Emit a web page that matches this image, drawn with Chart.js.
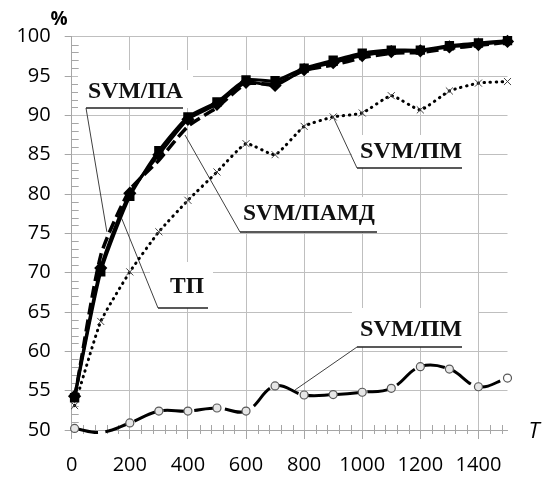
<!DOCTYPE html>
<html>
<head>
<meta charset="utf-8">
<script src="https://cdn.jsdelivr.net/npm/chart.js@4"></script>
<style>
  html, body { margin: 0; padding: 0; background: #fff; }
  #wrap { width: 543px; height: 479px; }
</style>
</head>
<body>
<div id="wrap"><canvas id="chart" width="543" height="479"></canvas></div>
<script>
// Values
const T = [10, 100, 200, 300, 400, 500, 600, 700, 800, 900, 1000, 1100, 1200, 1300, 1400, 1500];
const tp      = [54.1, 70.1, 79.7, 85.5, 89.8, 91.7, 94.5, 94.4, 96.0, 97.0, 97.9, 98.3, 98.3, 98.85, 99.2, 99.5];
const svmPA   = [54.3, 70.6, 80.1, 85.0, 89.5, 91.4, 94.2, 93.8, 95.8, 96.7, 97.6, 98.1, 98.2, 98.7, 99.0, 99.4];
const svmPAMD = [54.0, 72.2, 80.5, 84.3, 88.6, 91.0, 94.0, 94.0, 95.7, 96.4, 97.3, 97.9, 98.0, 98.5, 98.9, 99.3];
const svmPM   = [53.1, 63.8, 70.1, 75.2, 79.2, 82.8, 86.4, 85.0, 88.6, 89.8, 90.3, 92.5, 90.7, 93.1, 94.1, 94.3];
const svmIIM  = [50.2, 49.7, 50.9, 52.4, 52.4, 52.8, 52.4, 55.6, 54.45, 54.5, 54.8, 55.3, 58.05, 57.75, 55.5, 56.6];

const xTicks = [0, 200, 400, 600, 800, 1000, 1200, 1400];
const yTicks = [50, 55, 60, 65, 70, 75, 80, 85, 90, 95, 100];

// Callout labels: box in pixels, leader target in data units
const callouts = [
    { text: 'SVM/ПА',   box: [78, 70, 193, 108],  tx: 88,  tw: 95,  ty: 92,  ul: [86, 183],  from: [86, 108],  to: [121, 75.2] },
    { text: 'ТП',       box: [150, 262, 213, 308], tx: 170, tw: 34,  ty: 287, ul: [158, 208], from: [158, 308], to: [172, 76.9] },
    { text: 'SVM/ПАМД', box: [238, 197, 380, 232], tx: 243, tw: 132, ty: 214, ul: [240, 377], from: [240, 232], to: [390, 87.5] },
    { text: 'SVM/ПМ',   box: [352, 135, 478, 168], tx: 360, tw: 102, ty: 152, ul: [357, 462], from: [357, 168], to: [900, 89.8] },
    { text: 'SVM/ПМ',   box: [352, 308, 478, 347], tx: 360, tw: 102, ty: 330, ul: [357, 462], from: [357, 347], to: [769, 55.1] }
];

function pts(arr) {
    return T.map((t, i) => ({ x: t, y: arr[i] }));
}

const extras = {
    id: 'extras',
    beforeDatasetsDraw(chart) {
        const ctx = chart.ctx;
        const xs = chart.scales.x, ys = chart.scales.y;
        const a = chart.chartArea;
        ctx.save();
        // minor ticks
        ctx.strokeStyle = '#a6a6a6';
        ctx.lineWidth = 1;
        ctx.beginPath();
        for (let v = 51; v < 100; v++) {
            if (v % 5 === 0) continue;
            const y = Math.round(ys.getPixelForValue(v)) + 0.5;
            ctx.moveTo(a.left, y); ctx.lineTo(a.left + 7, y);
        }
        for (let v = 40; v < 1500; v += 40) {
            if (v % 200 === 0) continue;
            const x = Math.round(xs.getPixelForValue(v)) + 0.5;
            ctx.moveTo(x, a.bottom - 5); ctx.lineTo(x, a.bottom + 4);
        }
        ctx.stroke();

        // callouts
        callouts.forEach(c => {
            const [x1, y1, x2, y2] = c.box;
            ctx.fillStyle = '#fff';
            ctx.fillRect(x1, y1, x2 - x1, y2 - y1);
            ctx.strokeStyle = '#404040';
            ctx.lineWidth = 1;
            ctx.beginPath();
            ctx.moveTo(c.from[0], c.from[1]);
            ctx.lineTo(xs.getPixelForValue(c.to[0]), ys.getPixelForValue(c.to[1]));
            ctx.stroke();
            ctx.strokeStyle = '#222';
            ctx.lineWidth = 1.5;
            ctx.beginPath();
            ctx.moveTo(c.ul[0], c.from[1]); ctx.lineTo(c.ul[1], c.from[1]);
            ctx.stroke();
            ctx.font = 'bold 23px "Liberation Serif", "Times New Roman", serif';
            ctx.fillStyle = '#111';
            ctx.textBaseline = 'middle';
            ctx.textAlign = 'left';
            const w = ctx.measureText(c.text).width;
            ctx.save();
            ctx.translate(c.tx, c.ty);
            ctx.scale(c.tw / w, 1);
            ctx.fillText(c.text, 0, 0);
            ctx.restore();
        });
        ctx.restore();
    },
    afterDraw(chart) {
        const ctx = chart.ctx;
        ctx.save();
        ctx.fillStyle = '#000';
        ctx.textAlign = 'center';
        ctx.textBaseline = 'middle';
        ctx.font = 'bold 19px "Open Sans", sans-serif';
        ctx.fillText('%', 59, 20);
        ctx.font = 'italic 22px "Open Sans", sans-serif';
        ctx.fillText('T', 534, 432);
        ctx.restore();
    }
};

new Chart(document.getElementById('chart'), {
    type: 'line',
    data: {
        datasets: [
            {
                label: 'SVM/ПМ',
                data: pts(svmIIM),
                borderColor: '#000',
                borderWidth: 3,
                borderDash: [24, 7],
                tension: 0.4,
                pointStyle: 'circle',
                pointRadius: c => (c.raw && c.raw.y < 50 ? 0 : 4),
                pointBorderColor: '#595959',
                pointBorderWidth: 1.2,
                pointBackgroundColor: c => (c.dataIndex === T.length - 1 ? '#fff' : '#e6e6e6')
            },
            {
                label: 'SVM/ПМ',
                data: pts(svmPM),
                borderColor: '#000',
                borderWidth: 3,
                borderDash: [0.5, 5.5],
                borderCapStyle: 'round',
                tension: 0.15,
                pointStyle: 'crossRot',
                pointRadius: 5,
                pointBorderColor: '#404040',
                pointBorderWidth: 1
            },
            {
                label: 'SVM/ПАМД',
                data: pts(svmPAMD),
                borderColor: '#000',
                borderWidth: 3.5,
                borderDash: [12, 5],
                tension: 0.2,
                pointRadius: 0
            },
            {
                label: 'SVM/ПА',
                data: pts(svmPA),
                borderColor: '#000',
                borderWidth: 3,
                tension: 0.2,
                pointStyle: 'rectRot',
                pointRadius: 4.5,
                pointBackgroundColor: '#000',
                pointBorderColor: '#000'
            },
            {
                label: 'ТП',
                data: pts(tp),
                borderColor: '#000',
                borderWidth: 3,
                tension: 0.2,
                pointStyle: 'rect',
                pointRadius: 4.5,
                pointBackgroundColor: '#000',
                pointBorderColor: '#000'
            }
        ]
    },
    options: {
        responsive: false,
        animation: false,
        clip: false,
        layout: { padding: { left: 0, right: 35.5, top: 36.7, bottom: 0 } },
        plugins: { legend: { display: false }, tooltip: { enabled: false } },
        scales: {
            x: {
                type: 'linear',
                min: 0,
                max: 1500,
                afterBuildTicks: s => { s.ticks = xTicks.map(v => ({ value: v })); },
                afterFit: s => { s.height = 49; },
                grid: { color: '#bfbfbf', tickLength: 9, tickColor: '#a6a6a6' },
                border: { color: '#a6a6a6' },
                ticks: {
                    padding: 14,
                    maxRotation: 0,
                    color: '#000',
                    callback: v => String(v),
                    font: { family: '"Open Sans", sans-serif', size: 20 }
                }
            },
            y: {
                min: 50,
                max: 100,
                afterBuildTicks: s => { s.ticks = yTicks.map(v => ({ value: v })); },
                afterFit: s => { s.width = 71.7; },
                grid: { color: '#bfbfbf', tickLength: 7, tickColor: '#a6a6a6' },
                border: { color: '#a6a6a6' },
                ticks: {
                    padding: 14,
                    color: '#000',
                    callback: v => String(v),
                    font: { family: '"Open Sans", sans-serif', size: 20 }
                }
            }
        }
    },
    plugins: [extras]
});
</script>
</body>
</html>
